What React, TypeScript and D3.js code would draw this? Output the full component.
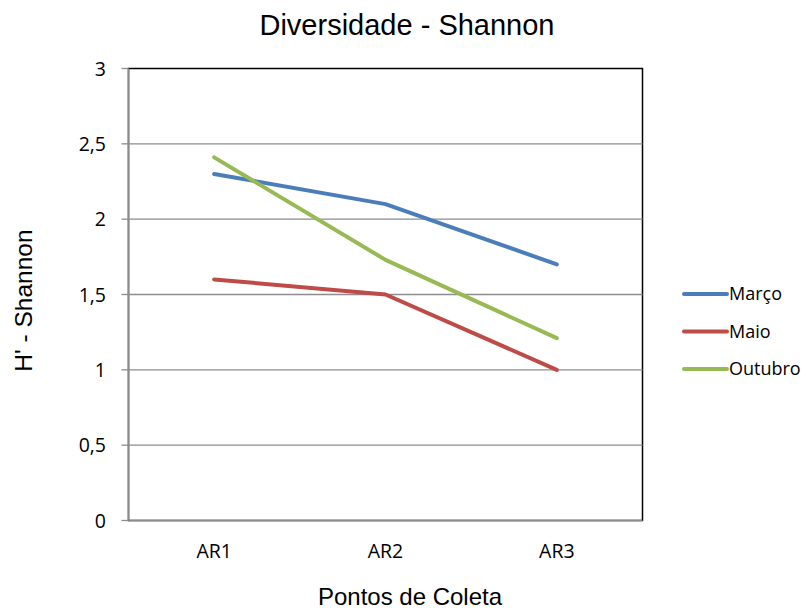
import React from "react";
import * as d3 from "d3";

const categories = ["AR1", "AR2", "AR3"];
const seriesNames = ["Março", "Maio", "Outubro"];
const marco = [2.3, 2.1, 1.7];
const maio = [1.6, 1.5, 1.0];
const outubro = [2.41, 1.73, 1.21];
const yTicks = [0, 0.5, 1, 1.5, 2, 2.5, 3];
const colors = ["#4a7ebb", "#be4b48", "#98b954"];

const W = 801;
const H = 612;
const left = 128.5;
const right = 642.5;
const top = 68.5;
const bottom = 520.5;

export default function App() {
  const x = d3.scaleBand<string>().domain(categories).range([left, right]);
  const y = d3.scaleLinear().domain([0, 3]).range([bottom, top]);
  const line = d3
    .line<number>()
    .x((_, i) => (x(categories[i]) as number) + x.bandwidth() / 2)
    .y((d) => y(d));
  const series = [marco, maio, outubro];
  const fmt = (v: number) => String(v).replace(".", ",");
  const tickFont = "'Open Sans', sans-serif";
  const arial = "'Liberation Sans', Arial, sans-serif";
  return (
    <svg
      width={W}
      height={H}
      style={{ position: "absolute", left: 0, top: 0, background: "#fff" }}
    >
      <text x={407} y={35} textAnchor="middle" fontFamily={arial} fontSize={29} fill="#000">
        Diversidade - Shannon
      </text>
      <rect
        x={left}
        y={top}
        width={right - left}
        height={bottom - top}
        fill="none"
        stroke="#000"
        strokeWidth={1.5}
      />
      {yTicks.map((t) => (
        <g key={t}>
          {t > 0 && t < 3 && (
            <line x1={left} x2={right} y1={y(t)} y2={y(t)} stroke="#8c8c8c" strokeWidth={1.3} />
          )}
          <line x1={left - 7} x2={left} y1={y(t)} y2={y(t)} stroke="#8c8c8c" strokeWidth={1.3} />
          <text
            x={106}
            y={y(t)}
            dy="0.36em"
            textAnchor="end"
            fontFamily={tickFont}
            fontSize={19.5}
            fill="#000"
          >
            {fmt(t)}
          </text>
        </g>
      ))}
      <line x1={left} x2={left} y1={top} y2={bottom} stroke="#8c8c8c" strokeWidth={1.5} />
      <line x1={left} x2={right} y1={bottom} y2={bottom} stroke="#8c8c8c" strokeWidth={1.5} />
      {categories.map((c) => (
        <text
          key={c}
          x={(x(c) as number) + x.bandwidth() / 2}
          y={558}
          textAnchor="middle"
          fontFamily={tickFont}
          fontSize={19.5}
          fill="#000"
        >
          {c}
        </text>
      ))}
      {series.map((s, i) => (
        <path
          key={seriesNames[i]}
          d={line(s) as string}
          fill="none"
          stroke={colors[i]}
          strokeWidth={4}
          strokeLinecap="round"
          strokeLinejoin="round"
        />
      ))}
      <text
        transform={`translate(32, 300.5) rotate(-90)`}
        textAnchor="middle"
        fontFamily={arial}
        fontSize={24.5}
        fill="#000"
      >
        H' - Shannon
      </text>
      <text x={410} y={605} textAnchor="middle" fontFamily={arial} fontSize={24} fill="#000">
        Pontos de Coleta
      </text>
      {seriesNames.map((n, i) => {
        const ly = 294 + i * 37.5;
        return (
          <g key={n}>
            <line x1={684} x2={727} y1={ly} y2={ly} stroke={colors[i]} strokeWidth={4} strokeLinecap="round" />
            <text x={729} y={ly} dy="0.36em" fontFamily={tickFont} fontSize={18} fill="#000">
              {n}
            </text>
          </g>
        );
      })}
    </svg>
  );
}
